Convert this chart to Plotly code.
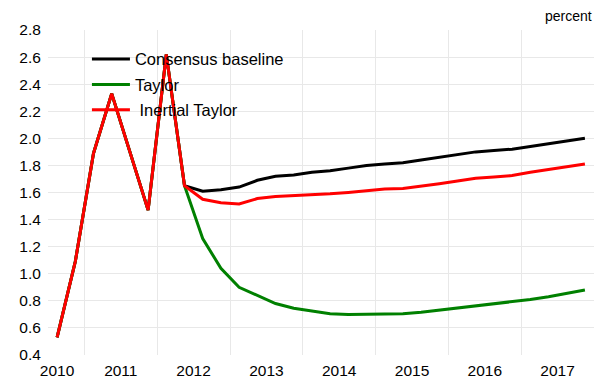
import plotly.graph_objects as go

# quarterly observations, 2010Q3 .. 2017Q4
quarters = [f"{y}Q{q}" for y in range(2010, 2018) for q in range(1, 5)][2:]

consensus = [0.53, 1.09, 1.89, 2.33, 1.90, 1.47, 2.62, 1.65,
             1.61, 1.62, 1.64, 1.69, 1.72, 1.73, 1.75, 1.76,
             1.78, 1.80, 1.81, 1.82, 1.84, 1.86, 1.88, 1.90,
             1.91, 1.92, 1.94, 1.96, 1.98, 2.00]
taylor = [0.53, 1.09, 1.89, 2.33, 1.90, 1.47, 2.62, 1.65,
          1.26, 1.04, 0.90, 0.84, 0.78, 0.745, 0.725, 0.705,
          0.70, 0.70, 0.70, 0.705, 0.715, 0.73, 0.745, 0.765,
          0.775, 0.79, 0.81, 0.83, 0.855, 0.88]
inertial = [0.53, 1.09, 1.89, 2.33, 1.90, 1.47, 2.62, 1.65,
            1.55, 1.525, 1.515, 1.555, 1.57, 1.575, 1.58, 1.59,
            1.60, 1.615, 1.625, 1.63, 1.645, 1.665, 1.685, 1.705,
            1.715, 1.725, 1.75, 1.77, 1.79, 1.81]

years = ["2010", "2011", "2012", "2013", "2014", "2015", "2016", "2017"]
y_ticks = [0.4, 0.6, 0.8, 1.0, 1.2, 1.4, 1.6, 1.8, 2.0, 2.2, 2.4, 2.6, 2.8]

FONT = "Liberation Sans, Arial, sans-serif"
GRID = "#e8e8e8"

x = list(range(len(quarters)))
# label under each year block; first year is only a half block
year_pos = [0] + [3.5 + 4 * k for k in range(len(years) - 1)]
year_edges = [1.5 + 4 * k for k in range(len(years) - 1)]

series = [
    ("Consensus baseline", consensus, "#000000"),
    ("Taylor", taylor, "#008000"),
    (" Inertial Taylor", inertial, "#ff0000"),
]

fig = go.Figure()
for name, vals, color in series:
    fig.add_trace(go.Scatter(
        x=x, y=vals, name=name, mode="lines", legendgroup=name,
        line=dict(color=color, width=3),
    ))

# the page body adds an 8px margin, so the figure is 8px smaller each way
fig.update_layout(
    width=600, height=370,
    margin=dict(l=40, r=14, t=22, b=23),
    plot_bgcolor="white", paper_bgcolor="white",
    font=dict(family=FONT, color="#000000", size=15.5),
    showlegend=True,
    legend=dict(
        x=0.0713, y=0.964, xanchor="left", yanchor="top",
        bgcolor="rgba(0,0,0,0)", font=dict(size=16.5),
        tracegroupgap=1, traceorder="grouped", itemwidth=38,
    ),
    xaxis=dict(
        range=[-0.5, len(quarters) - 0.5], automargin=False,
        tickmode="array", tickvals=year_pos, ticktext=years,
        showgrid=False, zeroline=False, showline=False,
        ticks="outside", ticklen=1, tickcolor="rgba(0,0,0,0)",
        minor=dict(tickmode="array", tickvals=year_edges, showgrid=True,
                   gridcolor=GRID, gridwidth=1),
    ),
    yaxis=dict(
        range=[0.4, 2.8], automargin=False,
        tickmode="array", tickvals=y_ticks, tickformat=".1f",
        showgrid=False, zeroline=False, showline=False,
        ticks="outside", ticklen=3, tickcolor="rgba(0,0,0,0)",
        minor=dict(tickmode="array", tickvals=y_ticks[1:-1], showgrid=True,
                   gridcolor=GRID, gridwidth=1),
    ),
    annotations=[dict(
        text="percent", x=1, y=1, xref="paper", yref="paper",
        xanchor="right", yanchor="bottom", yshift=4, showarrow=False,
        font=dict(size=14),
    )],
)

fig.write_html("out.html")
